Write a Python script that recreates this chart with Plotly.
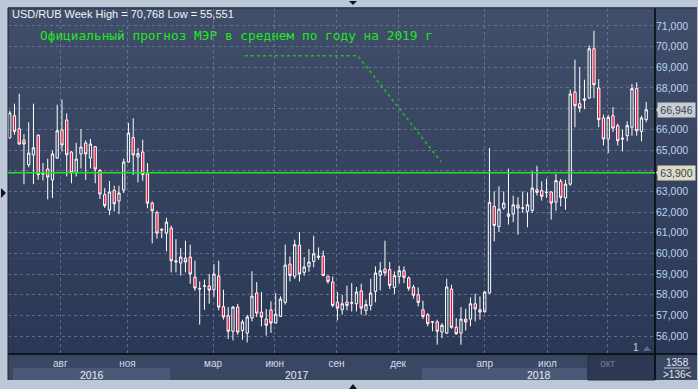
import plotly.graph_objects as go

title_text = "USD/RUB Week High = 70,768 Low = 55,551"
note_text = "Официальный прогноз МЭР в среднем по году на 2019 г"

opens = [65.58, 66.66, 66.03, 65.48, 64.29, 64.76, 65.72, 63.89, 64.08, 63.55,
         64.61, 65.97, 66.45, 64.90, 63.89, 64.81, 65.34, 64.61, 65.16, 64.01,
         62.84, 62.10, 63.05, 62.53, 63.06, 64.42, 65.60, 64.66, 64.90, 63.85,
         62.43, 61.97, 61.17, 60.98, 61.22, 59.58, 59.53, 59.77, 59.82, 58.85,
         58.30, 58.41, 58.42, 58.24, 58.90, 57.42, 56.98, 56.23, 57.40, 56.27,
         56.14, 56.87, 58.08, 57.16, 56.82, 57.26, 56.63, 56.95, 57.63, 59.48,
         58.89, 60.40, 59.08, 59.37, 59.61, 59.87, 59.87, 58.90, 58.61, 57.64,
         57.27, 57.64, 57.59, 57.56, 58.18, 57.24, 57.48, 58.16, 58.94, 59.24,
         59.21, 58.35, 58.88, 59.16, 58.81, 58.37, 58.00, 57.27, 57.03, 56.67,
         56.68, 56.19, 56.14, 58.27, 56.43, 56.14, 56.82, 56.82, 57.56, 57.27,
         57.19, 58.08, 62.27, 61.30, 62.19, 61.79, 61.90, 62.34, 62.18, 62.03,
         62.08, 63.08, 63.03, 62.94, 62.97, 62.48, 63.48, 62.68, 63.35, 67.80,
         67.24, 67.40, 67.51, 69.90, 68.00, 66.55, 65.53, 66.66, 66.18, 65.58,
         65.69, 66.10, 67.97, 65.90, 66.47]
highs = [66.90, 67.24, 67.72, 65.77, 66.34, 67.24, 65.75, 64.37, 64.58, 64.97,
         67.19, 67.43, 66.77, 64.95, 65.35, 66.01, 65.47, 65.53, 65.19, 64.08,
         63.16, 63.50, 63.27, 63.27, 64.58, 66.31, 66.53, 65.10, 65.50, 64.37,
         62.51, 62.06, 61.20, 61.72, 61.34, 60.69, 60.26, 60.61, 60.42, 59.64,
         58.64, 58.73, 59.00, 59.48, 59.64, 58.24, 57.40, 57.45, 57.56, 56.79,
         57.03, 59.13, 58.61, 58.13, 57.31, 57.68, 58.08, 57.92, 60.42, 59.85,
         60.66, 61.03, 59.82, 60.21, 60.85, 60.29, 60.13, 58.90, 58.88, 58.13,
         58.00, 58.44, 58.56, 58.37, 58.53, 57.76, 58.77, 59.37, 59.58, 60.61,
         59.58, 59.13, 59.40, 59.37, 58.88, 58.48, 58.35, 57.71, 57.11, 56.71,
         56.79, 56.63, 58.77, 58.48, 56.87, 57.40, 57.32, 57.87, 58.05, 57.92,
         58.16, 65.10, 63.00, 63.24, 63.00, 64.10, 62.79, 62.72, 63.00, 62.95,
         63.97, 64.24, 63.48, 63.61, 63.00, 63.84, 63.60, 63.56, 67.92, 69.37,
         69.01, 68.40, 70.06, 70.77, 68.43, 66.71, 66.71, 67.08, 66.27, 65.98,
         66.39, 68.19, 68.27, 66.66, 67.32]
lows = [65.55, 65.74, 65.25, 63.35, 64.16, 63.35, 63.56, 63.53, 62.61, 62.68,
        64.58, 64.93, 63.72, 63.39, 63.72, 64.11, 63.55, 64.11, 63.39, 62.63,
        62.19, 61.85, 62.03, 61.90, 62.92, 64.39, 63.79, 63.43, 63.51, 62.18,
        60.48, 60.71, 60.74, 60.10, 59.08, 59.08, 58.92, 59.08, 58.53, 58.19,
        56.55, 57.27, 57.56, 57.89, 57.24, 56.79, 55.85, 55.79, 56.06, 55.82,
        55.69, 56.71, 56.92, 56.47, 56.02, 56.15, 56.60, 56.95, 57.52, 58.64,
        58.76, 58.64, 58.92, 59.11, 59.32, 59.69, 58.89, 58.53, 57.39, 56.76,
        57.03, 57.24, 57.19, 57.19, 57.03, 57.00, 57.24, 57.63, 58.21, 58.89,
        58.27, 58.03, 58.53, 58.56, 58.19, 57.81, 57.43, 56.82, 56.47, 56.23,
        55.58, 55.90, 56.11, 56.35, 56.06, 55.58, 56.27, 56.47, 56.71, 56.79,
        57.11, 58.05, 60.58, 61.03, 62.11, 61.39, 61.51, 60.90, 61.95, 61.26,
        61.95, 62.80, 62.55, 62.68, 61.63, 62.06, 62.27, 62.11, 63.27, 66.10,
        66.82, 66.98, 67.48, 67.51, 66.10, 65.22, 64.85, 65.87, 65.22, 64.93,
        65.42, 65.69, 65.69, 65.42, 66.35]
closes = [66.79, 65.90, 65.29, 65.29, 64.85, 65.11, 63.81, 63.84, 63.69, 64.81,
          65.93, 65.24, 64.77, 63.90, 64.56, 65.14, 64.81, 65.29, 64.08, 62.87,
          62.31, 62.97, 62.40, 62.92, 64.42, 65.82, 64.76, 64.82, 63.81, 62.43,
          62.06, 60.98, 61.13, 61.51, 59.64, 59.63, 59.82, 59.58, 59.00, 58.32,
          58.28, 58.43, 58.22, 59.00, 57.40, 56.92, 56.23, 57.40, 56.19, 56.68,
          56.92, 57.93, 57.11, 56.92, 56.52, 56.63, 57.06, 57.79, 59.43, 58.93,
          60.42, 59.00, 59.34, 59.58, 59.98, 59.81, 58.93, 58.64, 57.48, 57.35,
          57.56, 57.48, 57.61, 58.13, 57.35, 57.52, 58.08, 59.05, 59.16, 59.05,
          58.45, 58.92, 59.16, 58.84, 58.31, 57.97, 57.63, 56.95, 56.60, 56.69,
          56.23, 56.52, 58.37, 56.42, 56.11, 56.82, 56.68, 57.56, 57.31, 57.16,
          58.13, 62.47, 61.35, 62.14, 62.43, 61.90, 62.35, 62.19, 62.20, 62.35,
          63.16, 62.95, 62.76, 62.96, 62.43, 63.52, 62.71, 63.35, 67.71, 67.14,
          67.03, 67.48, 69.90, 68.16, 66.47, 65.53, 66.58, 66.06, 65.45, 65.53,
          66.18, 67.97, 65.93, 66.55, 66.946]
weeks = list(range(len(opens)))

month_pos = [10.65, 24.8, 42.8, 55.8, 68.8, 81.75, 100.0, 113.2, 125.85]
month_labels = ["авг", "ноя", "мар", "июн", "сен", "дек", "апр", "июл",
                '<span style="color:#6d7c98">окт</span>']
year_labels = ["2016", "2017", "2018"]
year_pos = [17.3, 60.5, 111.4]
y_ticks = list(range(56, 72))
y_labels = ["" if v in (64, 67) else f"{v},000" for v in y_ticks]
level_value = 63.9
level_text = "63,900"
last_text = "66,946"
forecast_x = [49.5, 73.3, 90.8]
forecast_y = [69.56, 69.56, 64.43]
bars_total = "1358"
bars_visible = ">136<"

Y_MIN, Y_MAX = 55.13, 71.87
X_MIN, X_MAX = -0.36, 135.85

# pixel -> paper helpers for decorations
L, R, T, B = 8, 655, 8, 354
def px(x):
    return (x - L) / (R - L)
def py(y):
    return (B - y) / (B - T)
def vy(v):
    return (v - Y_MIN) / (Y_MAX - Y_MIN)

shapes = []
top_c = (0x40, 0x4e, 0x6a)
bot_c = (0x2b, 0x38, 0x55)
N = 40
for i in range(N):
    t = (i + 0.5) / N
    c = tuple(int(round(bot_c[k] + (top_c[k] - bot_c[k]) * t)) for k in range(3))
    shapes.append(dict(type="rect", xref="paper", yref="paper", x0=0, x1=px(697),
                       y0=i / N, y1=(i + 1) / N + 0.002, layer="below",
                       fillcolor="rgb(%d,%d,%d)" % c, line=dict(width=0)))
shapes.append(dict(type="rect", xref="paper", yref="paper", x0=0, x1=px(697), y0=py(380), y1=0,
                   layer="below", fillcolor="#3a4762", line=dict(width=0)))
for a, b in [(13, 170), (422, 587)]:
    shapes.append(dict(type="rect", xref="paper", yref="paper", x0=px(a), x1=px(b), y0=py(380), y1=py(368),
                       layer="below", fillcolor="#4a5876", line=dict(width=0)))
shapes.append(dict(type="rect", xref="paper", yref="paper", x0=px(588), x1=px(655), y0=py(380), y1=py(355),
                   layer="below", fillcolor="#2d3953", line=dict(width=1, color="#252f45")))
shapes += [
    dict(type="line", xref="paper", yref="paper", x0=1, x1=1, y0=py(380), y1=1, line=dict(color="#05080d", width=1.5)),
    dict(type="line", xref="paper", yref="paper", x0=0, x1=px(697), y0=0, y1=0, line=dict(color="#05080d", width=1.5)),
    dict(type="line", xref="paper", yref="paper", x0=0, x1=0, y0=py(380), y1=1, line=dict(color="#1a2233", width=1)),
    dict(type="line", xref="paper", yref="paper", x0=0, x1=px(697), y0=1, y1=1, line=dict(color="#243047", width=1)),
]
shapes.append(dict(type="line", xref="paper", yref="paper", x0=0, x1=1, y0=vy(level_value), y1=vy(level_value),
                   line=dict(color="#27e027", width=1.5)))
for v in (level_value, closes[-1]):
    shapes.append(dict(type="path", xref="paper", yref="paper",
                       path="M %f %f L %f %f L %f %f Z" % (px(656), vy(v), px(659.5), vy(v) + 5 / 346, px(659.5), vy(v) - 5 / 346),
                       fillcolor="#c9cdd3" if v != level_value else "#dcdcc6", line=dict(width=0)))
shapes += [
    dict(type="path", xref="paper", yref="paper",
         path="M %f %f L %f %f L %f %f Z" % (px(349), py(1), px(357), py(1), px(353), py(5)),
         fillcolor="#10141c", line=dict(width=0)),
    dict(type="path", xref="paper", yref="paper",
         path="M %f %f L %f %f L %f %f Z" % (px(349), py(389), px(357), py(389), px(353), py(384)),
         fillcolor="#10141c", line=dict(width=0)),
    dict(type="path", xref="paper", yref="paper",
         path="M %f %f L %f %f L %f %f Z" % (px(1), py(188), px(1), py(198), px(6), py(193)),
         fillcolor="#10141c", line=dict(width=0)),
    dict(type="path", xref="paper", yref="paper",
         path="M %f %f L %f %f L %f %f Z" % (px(643), py(351), px(651), py(351), px(647), py(346)),
         fillcolor="#5c6a84", line=dict(width=0)),
    dict(type="line", xref="paper", yref="paper", x0=px(664), x1=px(690), y0=py(368), y1=py(368),
         line=dict(color="#c8d2e0", width=1)),
]

fig = go.Figure()
fig.add_trace(go.Candlestick(
    x=weeks, open=opens, high=highs, low=lows, close=closes,
    increasing=dict(line=dict(color="#ffffff", width=1), fillcolor="rgba(0,0,0,0)"),
    decreasing=dict(line=dict(color="#ffffff", width=1), fillcolor="#ec0f3d"),
    whiskerwidth=0, hoverinfo="skip", showlegend=False))
fig.add_trace(go.Scatter(x=forecast_x, y=forecast_y, mode="lines",
                         line=dict(color="#1fbf1f", width=1.5, dash="dot"),
                         hoverinfo="skip", showlegend=False))

def ann(text, x, y, size, color, family="Liberation Sans, Arial", xanchor="center", **kw):
    return dict(text=text, xref=kw.pop("xref", "paper"), yref="paper", x=x, y=y,
                xanchor=xanchor, yanchor="middle", showarrow=False,
                font=dict(family=family, size=size, color=color), **kw)

annotations = [
    ann(title_text, px(10), py(14), 11, "#f2f5fa", xanchor="left"),
    ann(note_text, px(38), py(35), 12.8, "#22e622", family="DejaVu Sans Mono", xanchor="left"),
    ann(last_text, px(676.5), vy(closes[-1]), 10.5, "#3a4356", bgcolor="#c9cdd3", borderpad=1, width=35),
    ann(level_text, px(676.5), vy(level_value), 10.5, "#3a4356", bgcolor="#dcdcc6", borderpad=1, width=35),
    ann("1", px(636), py(347), 10, "#c8d4e6"),
    ann(bars_total, px(677), py(362), 10, "#e2e8f2"),
    ann(bars_visible, px(677), py(374), 10, "#e2e8f2"),
]
for lab, pos in zip(year_labels, year_pos):
    annotations.append(ann(lab, pos, py(374.5), 10.5, "#e6ecf6", xref="x"))

fig.update_layout(
    width=698, height=389,
    margin=dict(l=L, r=698 - R, t=T, b=389 - B, autoexpand=False),
    paper_bgcolor="#bcc8d7", plot_bgcolor="rgba(0,0,0,0)",
    boxgap=0.3,
    shapes=shapes, annotations=annotations,
    xaxis=dict(range=[X_MIN, X_MAX], tickvals=month_pos, ticktext=month_labels,
               showgrid=True, gridcolor="rgba(125,142,175,0.6)", gridwidth=1, griddash="3px,3px",
               zeroline=False, showline=False, ticks="", rangeslider=dict(visible=False),
               automargin=False, ticklabelstandoff=2,
               tickfont=dict(family="Liberation Sans, Arial", size=10, color="#d2dcee")),
    yaxis=dict(range=[Y_MIN, Y_MAX], side="right", tickvals=y_ticks, ticktext=y_labels,
               showgrid=True, gridcolor="rgba(125,142,175,0.6)", gridwidth=1, griddash="3px,3px",
               zeroline=False, showline=False, ticks="", automargin=False,
               tickfont=dict(family="Liberation Sans, Arial", size=10.5, color="#bcd2f0")),
)

fig.write_html("out.html", config={"displayModeBar": False},
               post_script="document.body.style.margin='0px';")
